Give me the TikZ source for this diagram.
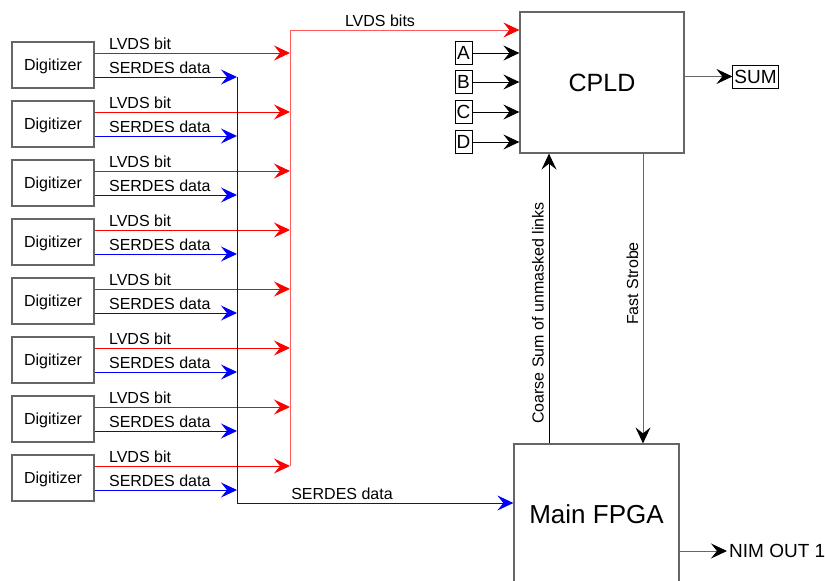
\documentclass[tikz,border=0pt]{standalone}
\usepackage{fontspec}
\setmainfont{Liberation Sans}
\usetikzlibrary{arrows.meta}
\begin{document}
\begin{tikzpicture}[x=1pt,y=-1pt,
  box/.style={draw=black!60, line width=1.2pt, inner sep=0pt},
  lbl/.style={font=\fontsize{16}{19}\selectfont, inner sep=0pt},
  tipshape/.style={-{Stealth[length=16pt,width=15pt,inset=6pt,#1]}},
  arr/.style={tipshape=},
  redarr/.style={tipshape=red},
  redline/.style={draw=red, line width=1pt, arr},
  bluebus/.style={draw=blue, line width=1pt, arr},
  blkline/.style={draw=black, line width=1pt, arr},
  grayline/.style={draw=black!60, line width=1pt, tipshape=black}
]
\useasboundingbox (0,0) rectangle (825,581);
\clip (0,0) rectangle (825,581);
\fill[white] (0,0) rectangle (825,581);

% main blocks
\node[box, minimum width=164pt, minimum height=141pt, font=\fontsize{25}{30}\selectfont] (cpld) at (602,82.5) {CPLD};
\node[box, minimum width=165pt, minimum height=140pt, font=\fontsize{26}{31}\selectfont] (fpga) at (596.5,514) {Main FPGA};

% digitizers
\foreach \i in {1,...,8} {
  \pgfmathsetmacro\cy{65+59*(\i-1)}
  \node[box, minimum width=82pt, minimum height=46pt, lbl, text depth=0pt] (dig\i) at (53,\cy) {Digitizer};
  \coordinate (r\i) at (290,\cy-12);
  \coordinate (b\i) at (237,\cy+12);
  \draw[redline] (dig\i.east |- r\i) -- (r\i)
    node[lbl, pos=0, anchor=base west, xshift=14pt, yshift=3.5pt] {LVDS bit};
  \draw[bluebus] (dig\i.east |- b\i) -- (b\i)
    node[lbl, pos=0, anchor=base west, xshift=14pt, yshift=3.5pt] {SERDES data};
}

% red bus to CPLD
\coordinate (rtop) at (290,30);
\draw[draw=red!65, line width=1pt, redarr] (r8) -- (rtop) -- (cpld.west |- rtop);
\node[lbl, anchor=base] (lvdsbits) at (380,26.5) {LVDS bits};

% blue bus to FPGA
\coordinate (bbot) at (237,503);
\draw[bluebus] (b1) -- (bbot) -- (fpga.west |- bbot);
\node[lbl, anchor=base] (serdes) at (342,499.5) {SERDES data};

% A-D inputs
\foreach \n/\yy in {A/53, B/82, C/112, D/142} {
  \node[draw=black, line width=0.9pt, minimum width=17pt, minimum height=23pt, inner sep=0pt,
        font=\fontsize{19}{22}\selectfont] (in\n) at (463.5,\yy) {\n};
  \draw[blkline] (in\n.east) -- (cpld.west |- in\n);
}

% SUM output
\node[draw=black, line width=0.9pt, minimum height=23pt, inner xsep=1.5pt, inner ysep=0pt,
      font=\fontsize{19}{22}\selectfont] (sum) at (755.5,76.5) {SUM};
\draw[grayline] (cpld.east |- sum) -- (sum.west);

% CPLD <-> FPGA
\coordinate (cs) at (549,0);
\coordinate (fs) at (643,0);
\draw[blkline] (fpga.north -| cs) -- (cpld.south -| cs);
\node[lbl, rotate=90, anchor=base] (coarse) at (543.5,313) {Coarse Sum of unmasked links};
\draw[grayline] (cpld.south -| fs) -- (fpga.north -| fs);
\node[lbl, rotate=90, anchor=base] (strobe) at (638,283.5) {Fast Strobe};

% NIM OUT
\node[inner sep=2pt, anchor=west, font=\fontsize{19}{22}\selectfont] (nim) at (727,551) {NIM OUT 1};
\draw[grayline] (fpga.east |- nim) -- (nim.west);
\end{tikzpicture}
\end{document}
